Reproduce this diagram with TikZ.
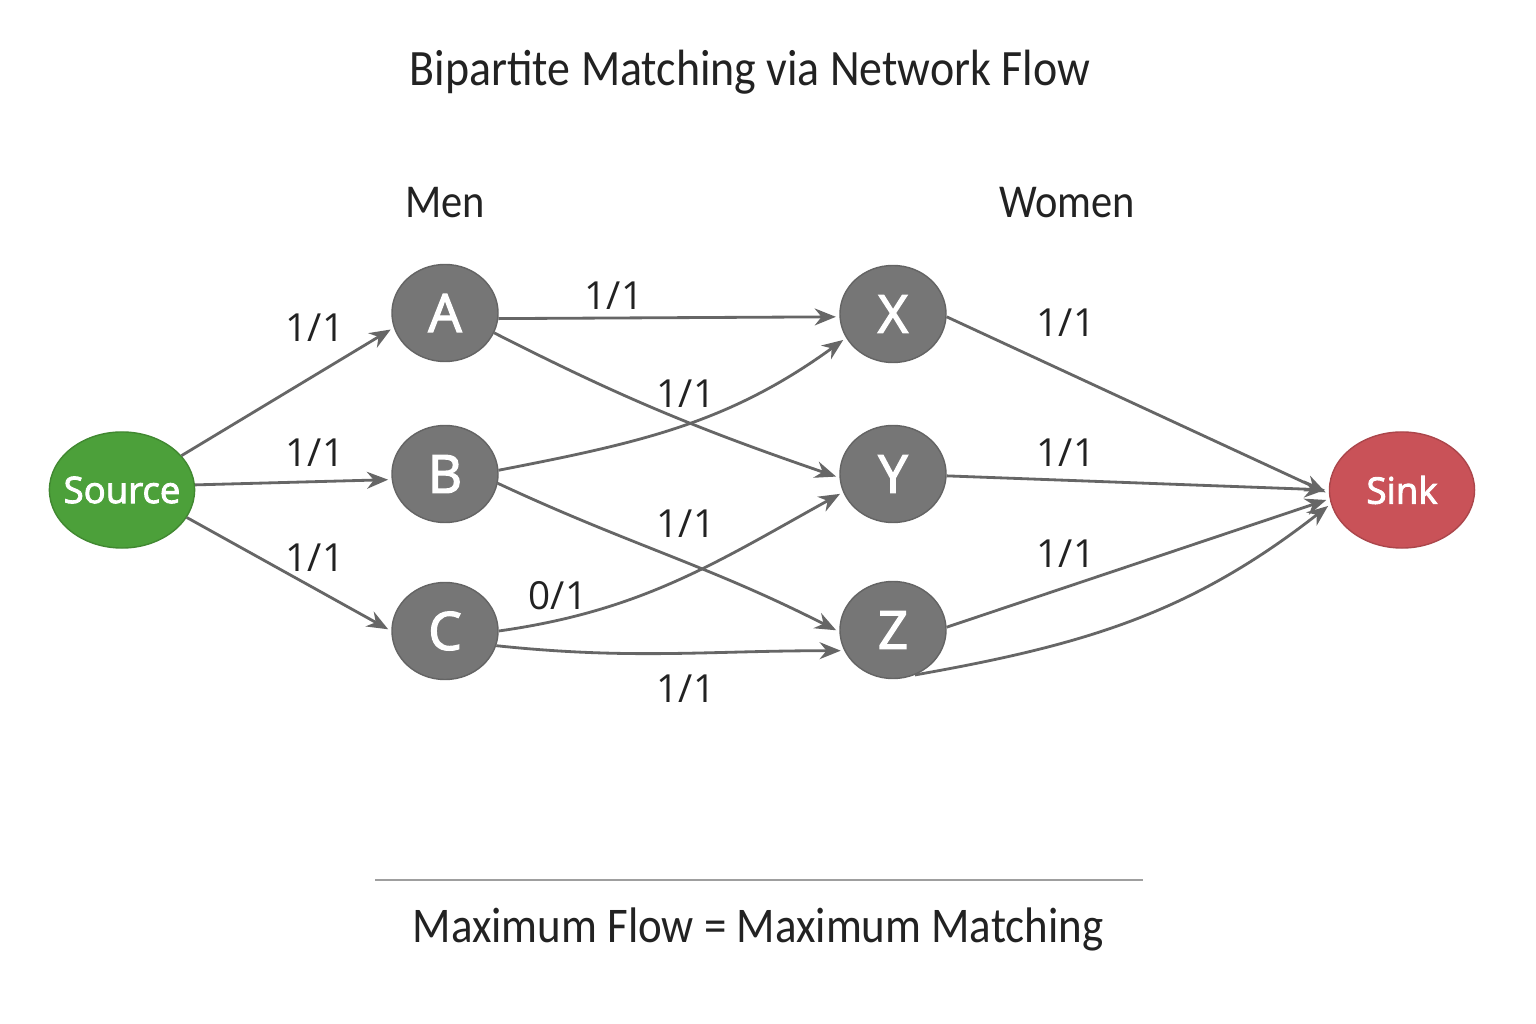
\documentclass[tikz,border=0pt]{standalone}
\usepackage{fontspec}
\setmainfont{Open Sans}
\newfontfamily\headfont{Carlito}[FakeStretch=0.9]
\newfontfamily\nodefont{Open Sans}[FakeBold=2.5]
\usetikzlibrary{arrows.meta, shapes.geometric, positioning}
\definecolor{nodegray}{RGB}{118,118,118}
\definecolor{edgegray}{RGB}{102,102,102}
\definecolor{srcgreen}{RGB}{76,160,58}
\definecolor{sinkred}{RGB}{201,82,88}
\definecolor{textdark}{RGB}{34,34,34}

\begin{document}
\begin{tikzpicture}[
        x=0.01cm, y=0.01cm,
        person/.style={ellipse, draw=nodegray!85!black, fill=nodegray, minimum width=1.06cm, minimum height=0.97cm, inner sep=0pt, text=white, font=\nodefont\fontsize{15}{15}\selectfont},
        terminal/.style={ellipse, minimum width=1.45cm, minimum height=1.16cm, inner xsep=-2pt, inner ysep=0pt, text=white, font=\nodefont\fontsize{10.4}{10.4}\selectfont},
        flowlbl/.style={anchor=base, text=textdark, font=\fontsize{11}{11}\selectfont},
        heading/.style={anchor=base, text=textdark, font=\headfont\fontsize{14.5}{14.5}\selectfont},
        arrow/.style={-{Stealth[length=6pt, width=4.8pt]}, edgegray, line width=0.8pt, shorten >=1pt}
    ]
    \fill[white] (0,0) rectangle (1536,1024);

    \node[heading] (title) at (750,938) {Bipartite Matching via Network Flow};
    \node[heading, font=\headfont\fontsize{13.4}{13.4}\selectfont] (men) at (445,806) {Men};
    \node[heading, font=\headfont\fontsize{13.4}{13.4}\selectfont] (women) at (1067,806) {Women};

    % network
    \node[terminal, fill=srcgreen, draw=srcgreen!85!black] (source) at (122,534) {Source};
    \node[person] (A) at (445,711) {A};
    \node[person] (B) at (445,550) {B};
    \node[person] (C) at (445,393) {C};
    \node[person] (X) at (893,710) {X};
    \node[person] (Y) at (893,550) {Y};
    \node[person] (Z) at (893,394) {Z};
    \node[terminal, fill=sinkred, draw=sinkred!85!black] (sink) at (1402,534) {Sink};

    \draw[arrow] (source.30) -- (A.196);
    \draw[arrow] (source.4) -- (B.186);
    \draw[arrow] (source.-23) -- (C.180);

    \draw[arrow] (A.-6) -- (X.183);
    \draw[arrow] (A.-22) to[out=-27, in=161] (Y.184);
    \draw[arrow] (B.4) to[out=11, in=216] (X.207);
    \draw[arrow] (B.-10) to[out=-25, in=153] (Z.182);
    \draw[arrow] (C.0) to[out=8, in=209] (Y.200);
    \draw[arrow] (C.-16) to[out=-6, in=180] (Z.203);

    \draw[arrow] (X.-3) -- (sink.183);
    \draw[arrow] (Y.-2) -- (sink.180);
    \draw[arrow] (Z.3) -- (sink.187);
    \draw[arrow] (Z.-64) to[out=10, in=218] (sink.191);

    % flow / capacity
    \node[flowlbl] (fSA) at (315,682) {1/1};
    \node[flowlbl] (fSB) at (315,557) {1/1};
    \node[flowlbl] (fSC) at (315,452) {1/1};
    \node[flowlbl] (fAX) at (614,714) {1/1};
    \node[flowlbl] (fBX) at (686,616) {1/1};
    \node[flowlbl] (fBZ) at (686,486) {1/1};
    \node[flowlbl] (fCY) at (558,414) {0/1};
    \node[flowlbl] (fCZ) at (686,321) {1/1};
    \node[flowlbl] (fXS) at (1066,687) {1/1};
    \node[flowlbl] (fYS) at (1066,557) {1/1};
    \node[flowlbl] (fZS) at (1066,456) {1/1};

    \draw[gray!75, line width=0.6pt] (375,144) -- (1143,144);
    \node[heading, font=\headfont\fontsize{14.2}{14.2}\selectfont] (result) at (758,81) {Maximum Flow = Maximum Matching};
\end{tikzpicture}
\end{document}
